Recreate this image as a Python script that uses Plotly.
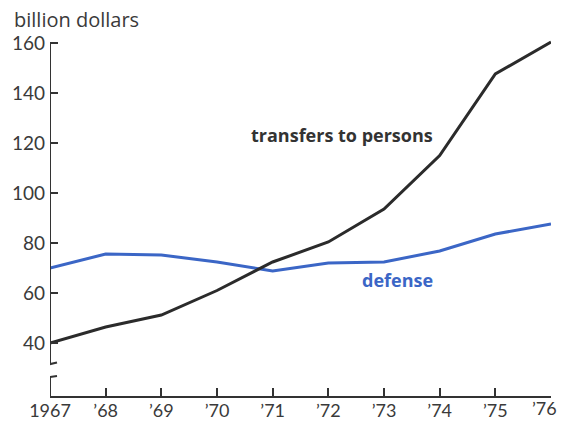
import plotly.graph_objects as go

years = [1967, 1968, 1969, 1970, 1971, 1972, 1973, 1974, 1975, 1976]
year_labels = ["1967", "\u201968", "\u201969", "\u201970", "\u201971", "\u201972", "\u201973", "\u201974", "\u201975", "\u201976"]
transfers = [40, 46.4, 51.2, 61, 72.4, 80.4, 93.6, 115, 147.6, 160.4]
defense = [70, 75.6, 75.2, 72.4, 68.8, 72, 72.4, 76.8, 83.6, 87.6]
y_ticks = [40, 60, 80, 100, 120, 140, 160]

TICKFONT = "Lato"
TEXTFONT = "Open Sans"
DARK = "#2b2b2b"
TXT = "#3a3a3a"
BLUE = "#3b66c6"

fig = go.Figure()
fig.add_trace(go.Scatter(x=years, y=defense, mode="lines", line=dict(color=BLUE, width=3),
                         cliponaxis=False, showlegend=False))
fig.add_trace(go.Scatter(x=years, y=transfers, mode="lines", line=dict(color=DARK, width=3),
                         cliponaxis=False, showlegend=False))

# last tick label drawn as an annotation so it can sit inside the right edge
tick_text = year_labels[:-1] + [""]

fig.update_layout(
    width=561, height=421,
    margin=dict(l=50, r=10, t=38, b=25, autoexpand=False),
    paper_bgcolor="white", plot_bgcolor="white",
    font=dict(family=TICKFONT, size=18, color=TXT),
    xaxis=dict(range=[1967, 1976.0001], tickvals=years, ticktext=tick_text, automargin=False,
               showgrid=False, zeroline=False, showline=True, linecolor="#333", linewidth=2,
               ticks="inside", ticklen=8, tickwidth=1.5, tickcolor="#333",
               ticklabeloverflow="allow", ticklabelstandoff=-3,
               tickfont=dict(family=TICKFONT, size=18, color=TXT)),
    yaxis=dict(range=[18.8, 162], tickvals=y_ticks, showgrid=False, zeroline=False, automargin=False,
               showline=False, ticks="inside", ticklen=8, tickwidth=1.5, tickcolor="#333",
               ticklabelstandoff=4,
               tickfont=dict(family=TICKFONT, size=19, color=TXT)),
)

fig.add_annotation(text=year_labels[-1], xref="x", yref="paper", x=years[-1], y=0,
                   xanchor="right", yanchor="top", xshift=8, yshift=1, showarrow=False,
                   font=dict(family=TICKFONT, size=18, color=TXT))

# y-axis line with break
fig.add_shape(type="line", xref="x", yref="y", x0=1967, x1=1967, y0=160, y1=31.4,
              line=dict(color="#333", width=2))
fig.add_shape(type="line", xref="x", yref="y", x0=1967, x1=1967, y0=18.8, y1=26.4,
              line=dict(color="#333", width=2))
fig.add_shape(type="line", xref="x", yref="y", xsizemode="pixel", xanchor=1967,
              x0=-8, x1=7, y0=30.8, y1=32.2, line=dict(color="#333", width=2))
fig.add_shape(type="line", xref="x", yref="y", xsizemode="pixel", xanchor=1967,
              x0=0, x1=7, y0=26.4, y1=26.8, line=dict(color="#333", width=2))

fig.add_annotation(text="billion dollars", xref="paper", yref="paper", x=-38/501, y=1.0,
                   xanchor="left", yanchor="middle", yshift=19, showarrow=False,
                   font=dict(family=TEXTFONT, size=20, color=TXT))
fig.add_annotation(text="<b>transfers to persons</b>", xref="x", yref="y", x=1972.25, y=123.2,
                   showarrow=False, font=dict(family=TEXTFONT, size=18, color="#333"))
fig.add_annotation(text="<b>defense</b>", xref="x", yref="y", x=1973.25, y=65.2,
                   showarrow=False, font=dict(family=TEXTFONT, size=18, color=BLUE))

fig.write_html("out.html", config={"displayModeBar": False},
               post_script="document.body.style.margin='0';document.body.style.overflow='hidden';")
